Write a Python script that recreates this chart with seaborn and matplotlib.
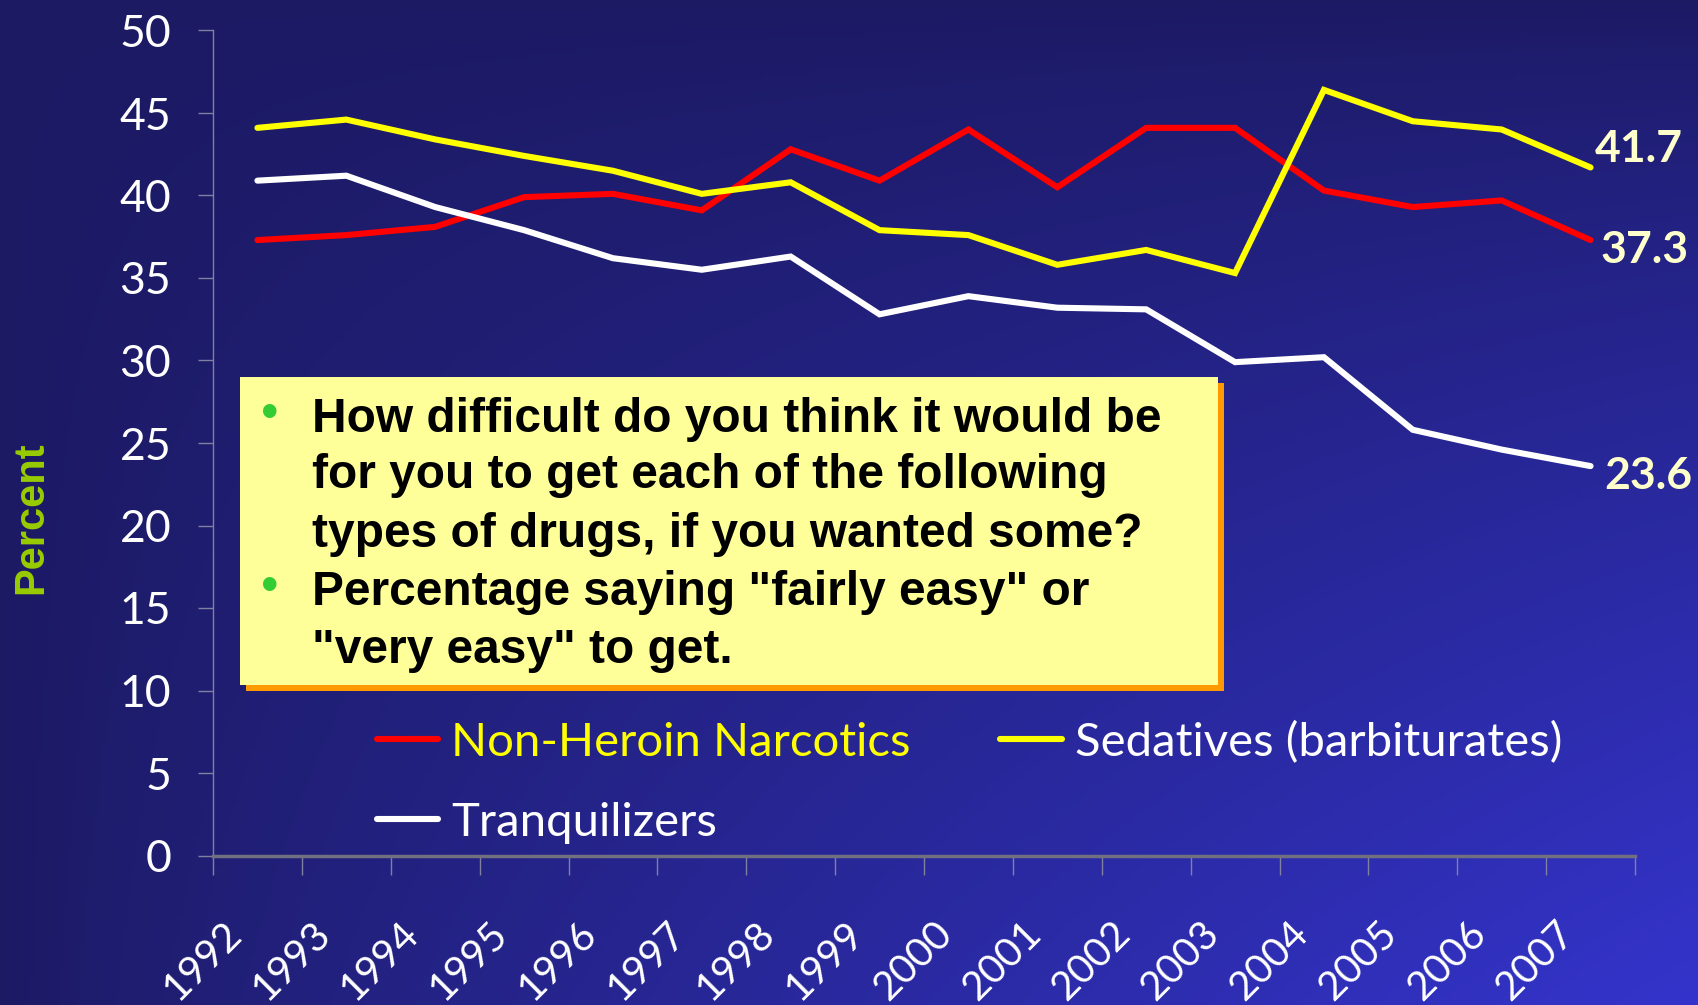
import numpy as np
import pandas as pd
import seaborn as sns
import matplotlib.pyplot as plt
from matplotlib.patches import Rectangle
from matplotlib.lines import Line2D
from matplotlib.transforms import ScaledTranslation

# values
YEARS = [str(y) for y in range(1992, 2008)]
NARCOTICS = [37.3, 37.6, 38.1, 39.9, 40.1, 39.1, 42.8, 40.9, 44.0, 40.5,
             44.1, 44.1, 40.3, 39.3, 39.7, 37.3]
SEDATIVES = [44.1, 44.6, 43.4, 42.4, 41.5, 40.1, 40.8, 37.9, 37.6, 35.8,
             36.7, 35.3, 46.4, 44.5, 44.0, 41.7]
TRANQUILIZERS = [40.9, 41.2, 39.3, 37.9, 36.2, 35.5, 36.3, 32.8, 33.9, 33.2,
                 33.1, 29.9, 30.2, 25.8, 24.6, 23.6]
SERIES = ["Non-Heroin Narcotics", "Sedatives (barbiturates)", "Tranquilizers"]
END_LABELS = ["37.3", "41.7", "23.6"]
Y_TICKS = list(range(0, 51, 5))
BOX_LINES = ["How difficult do you think it would be",
             "for you to get each of the following",
             "types of drugs, if you wanted some?",
             "Percentage saying \"fairly easy\" or",
             "\"very easy\" to get."]
BULLET_LINES = [0, 3]

COLORS = {"Non-Heroin Narcotics": "#ff0000",
          "Sedatives (barbiturates)": "#ffff00",
          "Tranquilizers": "#ffffff"}
TEXT_COLORS = {"Non-Heroin Narcotics": "#ffff00",
               "Sedatives (barbiturates)": "#ffffff",
               "Tranquilizers": "#ffffff"}

W, H = 1698, 1005


def fxy(x, y):
    """pixel position (from top-left) to figure fraction"""
    return x / W, 1 - y / H


def main():
    sns.set_style("ticks")
    plt.rcParams["font.family"] = ["Lato", "DejaVu Sans"]

    fig = plt.figure(figsize=(W / 100, H / 100), dpi=100)

    # gradient background: dark navy top/left to bright blue bottom right
    bg = fig.add_axes([0, 0, 1, 1], zorder=-5)
    gx, gy = np.meshgrid(np.linspace(0, 1, 400), np.linspace(0, 1, 240))
    f = ((gx * gy) ** 0.8)[..., None]
    c0 = np.array([28, 26, 99]) / 255
    c1 = np.array([52, 52, 204]) / 255
    bg.imshow(c0 + (c1 - c0) * f, aspect="auto", extent=[0, 1, 0, 1],
              origin="upper")
    bg.axis("off")

    ax = fig.add_axes([213 / W, 1 - 855.5 / H, 1422 / W, 825 / H])
    ax.set_facecolor("none")

    df = pd.DataFrame({
        "x": list(range(len(YEARS))) * 3,
        "value": NARCOTICS + SEDATIVES + TRANQUILIZERS,
        "series": [s for s in SERIES for _ in YEARS]})
    sns.lineplot(data=df, x="x", y="value", hue="series", palette=COLORS,
                 linewidth=4.4, legend=False, ax=ax)
    for line in ax.lines:
        line.set_solid_capstyle("round")
        line.set_solid_joinstyle("miter")

    ax.set_xlim(-0.5, len(YEARS) - 0.5)
    ax.set_ylim(0, 50)
    ax.set_xlabel("")
    ax.set_ylabel("")

    # tick marks at category borders, labels at category centres
    ax.set_xticks(np.arange(-0.5, len(YEARS), 1))
    ax.set_xticklabels([])
    ax.set_xticks(np.arange(len(YEARS)), minor=True)
    ax.set_xticklabels(YEARS, minor=True, rotation=45, ha="right",
                       va="center", rotation_mode="anchor")
    ax.tick_params(axis="x", which="major", length=14, width=1,
                   color="#8080a0", direction="out")
    ax.tick_params(axis="x", which="minor", length=0, pad=52,
                   labelsize=29, labelcolor="white")
    shift = ScaledTranslation(-0.22, 0, fig.dpi_scale_trans)
    for lab in ax.get_xticklabels(minor=True):
        lab.set_transform(lab.get_transform() + shift)

    ax.set_yticks(Y_TICKS)
    ax.tick_params(axis="y", length=11, width=1, color="#8080a0",
                   pad=19, labelsize=32, labelcolor="white")

    for side in ["top", "right"]:
        ax.spines[side].set_visible(False)
    ax.spines["left"].set_color("#8080a0")
    ax.spines["left"].set_linewidth(1)
    ax.spines["bottom"].set_color("#707080")
    ax.spines["bottom"].set_linewidth(2.5)

    # end-of-line values
    offsets = [(7, -7), (3, 13), (10, -7)]
    for vals, lab, off in zip([NARCOTICS, SEDATIVES, TRANQUILIZERS],
                              END_LABELS, offsets):
        ax.annotate(lab, xy=(len(YEARS) - 1, vals[-1]), xytext=off,
                    textcoords="offset points", ha="left", va="center",
                    fontsize=32, fontweight="bold", color="#ffffcc")

    # legend: row 1 narcotics + sedatives, row 2 tranquilizers
    order = [SERIES[0], SERIES[2], SERIES[1]]
    handles = [Line2D([], [], color=COLORS[s], lw=4.4,
                      solid_capstyle="round") for s in order]
    leg = ax.legend(handles, order, loc="upper left",
                    bbox_to_anchor=(0.115, 0.163), ncol=2, frameon=False,
                    fontsize=34, handlelength=1.3, handletextpad=0.28,
                    columnspacing=1.9, labelspacing=0.8, borderpad=0,
                    borderaxespad=0)
    for txt, s in zip(leg.get_texts(), order):
        txt.set_color(TEXT_COLORS[s])

    fig.text(*fxy(31, 518), "Percent", rotation=90, ha="center",
             va="center", fontsize=30, fontweight="bold", color="#99cc00",
             family=["Liberation Sans", "DejaVu Sans"])

    # question box with orange drop shadow
    bx0, by0, bx1, by1 = 240, 377, 1218, 685
    fig.add_artist(Rectangle(fxy(bx0 + 6, by1 + 6), (bx1 - bx0) / W,
                             (by1 - by0) / H, transform=fig.transFigure,
                             facecolor="#ff9900", edgecolor="none",
                             zorder=5))
    fig.add_artist(Rectangle(fxy(bx0, by1), (bx1 - bx0) / W,
                             (by1 - by0) / H, transform=fig.transFigure,
                             facecolor="#ffff99", edgecolor="none",
                             zorder=6))
    line_y = [419, 476, 534, 592, 650]
    for i, (txt, y) in enumerate(zip(BOX_LINES, line_y)):
        fig.text(*fxy(312, y), txt, ha="left", va="center", fontsize=34.5,
                 fontweight="bold", color="black", zorder=7,
                 family=["Liberation Sans", "DejaVu Sans"])
        if i in BULLET_LINES:
            fig.text(*fxy(270, y - 4), "\u2022", ha="center", va="center",
                     fontsize=36, color="#33cc33", zorder=7,
                     family=["Liberation Sans", "DejaVu Sans"])

    fig.savefig("out.png", dpi=100)


if __name__ == "__main__":
    main()
